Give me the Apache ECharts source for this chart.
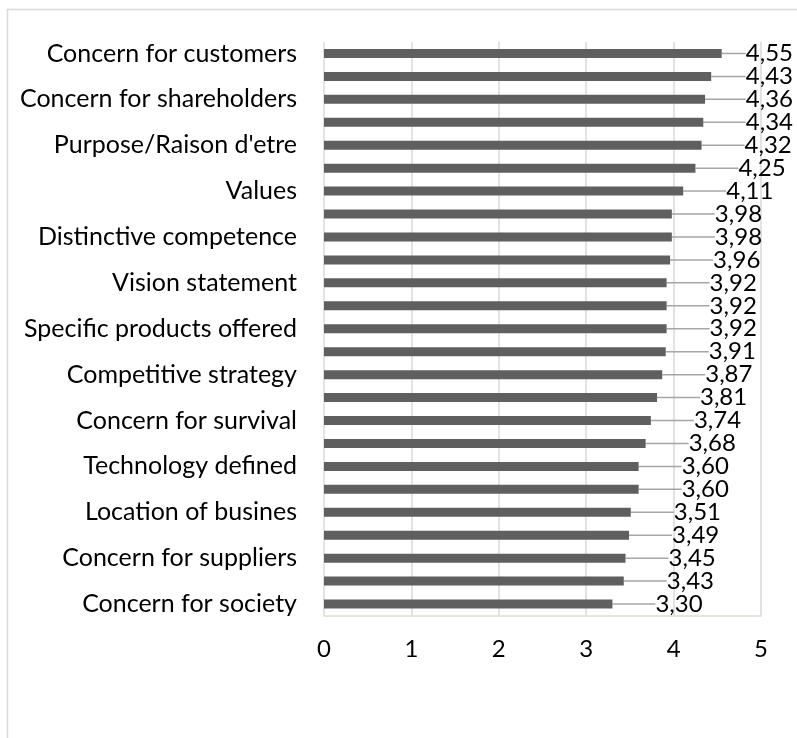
<!DOCTYPE html>
<html>
<head>
<meta charset="utf-8">
<style>
  html, body { margin: 0; padding: 0; background: #ffffff; }
  #chart { width: 797px; height: 738px; }
</style>
<script src="https://cdn.jsdelivr.net/npm/echarts@6/dist/echarts.min.js"></script>
</head>
<body>
<div id="chart"></div>
<script>
// Mission statement components, top to bottom (every other name is printed on the axis)
const categories = [
  'Concern for customers', '',
  'Concern for shareholders', '',
  "Purpose/Raison d'etre", '',
  'Values', '',
  'Distinctive competence', '',
  'Vision statement', '',
  'Specific products offered', '',
  'Competitive strategy', '',
  'Concern for survival', '',
  'Technology defined', '',
  'Location of busines', '',
  'Concern for suppliers', '',
  'Concern for society'
];

// Mean scores
const scores = [
  4.55, 4.43, 4.36, 4.34, 4.32, 4.25, 4.11, 3.98, 3.98, 3.96,
  3.92, 3.92, 3.92, 3.91, 3.87, 3.81, 3.74, 3.68, 3.60, 3.60,
  3.51, 3.49, 3.45, 3.43, 3.30
];

// Value axis ticks
const xTicks = [0, 1, 2, 3, 4, 5];

const FONT = 'Lato, "Open Sans", sans-serif';
const CHART_W = 797;

const chart = echarts.init(document.getElementById('chart'), null, { renderer: 'canvas' });

chart.setOption({
  backgroundColor: '#ffffff',
  animation: false,
  graphic: [{
    type: 'rect',
    left: 5, top: 7,
    shape: { width: 820, height: 760 },
    style: { fill: 'none', stroke: '#d9d9d9', lineWidth: 1.5 },
    silent: true
  }],
  grid: { left: 324, right: 36, top: 42, bottom: 122.5, containLabel: false },
  xAxis: {
    type: 'value',
    min: xTicks[0],
    max: xTicks[xTicks.length - 1],
    interval: 1,
    axisLine: { show: true, lineStyle: { color: '#e0ddcd', width: 1.5 } },
    axisTick: { show: false },
    splitLine: { show: true, lineStyle: { color: '#d9d9d9', width: 1.5 } },
    axisLabel: {
      margin: 22,
      color: '#000000',
      fontFamily: FONT,
      fontSize: 24,
      formatter: v => String(v)
    }
  },
  yAxis: {
    type: 'category',
    inverse: true,
    data: categories,
    axisLine: { show: false },
    axisTick: { show: false },
    splitLine: { show: false },
    axisLabel: {
      interval: 1,
      margin: 27,
      color: '#000000',
      fontFamily: FONT,
      fontSize: 25
    }
  },
  series: [{
    type: 'bar',
    data: scores,
    barWidth: 9,
    itemStyle: { color: '#5f5f5f' },
    label: {
      show: true,
      position: 'right',
      distance: 5,
      padding: [0, 0, 0, 6],
      color: '#000000',
      fontFamily: FONT,
      fontSize: 24,
      formatter: p => p.value.toFixed(2).replace('.', ',')
    },
    // push labels out along a leader line, keeping them inside the chart's right edge
    labelLayout: params => {
      const r = params.labelRect;
      const room = (CHART_W - 4) - (r.x + r.width);
      return { dx: Math.min(32, room) };
    },
    labelLine: {
      show: true,
      lineStyle: { color: '#a6a6a6', width: 1.5 }
    }
  }]
});
</script>
</body>
</html>
